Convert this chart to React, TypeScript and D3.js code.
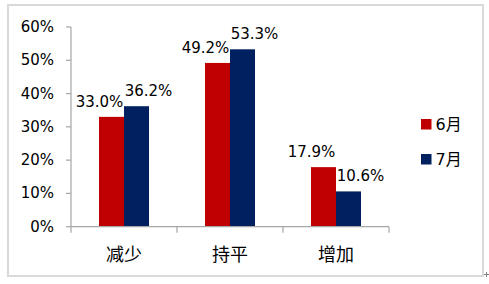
import React from "react";
import * as d3 from "d3";

const categories = ["减少", "持平", "增加"];
const seriesNames = ["6月", "7月"];
const june = [33.0, 49.2, 17.9];
const july = [36.2, 53.3, 10.6];
const yTicks = [0, 10, 20, 30, 40, 50, 60];
const colors = ["#C00000", "#002060"];

const W = 489;
const H = 284;
const NUM_FONT = "'DejaVu Sans', 'Noto Sans CJK SC', sans-serif";
const CJK_FONT = "'Noto Sans CJK SC', 'DejaVu Sans', sans-serif";

export default function App() {
  const x0 = d3.scaleBand<string>().domain(categories).range([71, 389]).padding(0);
  const x1 = d3
    .scaleBand<string>()
    .domain(seriesNames)
    .range([0, x0.bandwidth()])
    .paddingInner(0)
    .paddingOuter(1.12);
  const y = d3.scaleLinear().domain([0, 60]).range([226.7, 27]);
  const values = [june, july];
  const axisColor = "#A6A6A6";
  const fmt = (v: number) => `${v.toFixed(1)}%`;

  return (
    <svg
      width={W}
      height={H}
      style={{ position: "absolute", left: 0, top: 0, background: "#fff" }}
    >
      <rect x={8} y={5} width={475} height={271} fill="#fff" stroke="#D9D9D9" strokeWidth={2} />
      {/* resize handle artifact */}
      <g stroke="#7F7F7F" strokeWidth={1}>
        <line x1={484} y1={274.5} x2={489} y2={274.5} />
        <line x1={486.5} y1={272} x2={486.5} y2={277} />
      </g>

      {/* y axis */}
      <line x1={71} y1={y(60)} x2={71} y2={y(0)} stroke={axisColor} strokeWidth={1.2} />
      {yTicks.map((t) => (
        <g key={t}>
          <line x1={66} x2={71} y1={y(t)} y2={y(t)} stroke={axisColor} strokeWidth={1.2} />
          <text
            x={54}
            y={y(t)}
            textAnchor="end"
            dominantBaseline="central"
            fontFamily={NUM_FONT}
            fontSize={15}
            fill="#000"
          >
            {`${t}%`}
          </text>
        </g>
      ))}

      {/* bars */}
      {categories.map((c, ci) =>
        seriesNames.map((s, si) => {
          const v = values[si][ci];
          const bx = (x0(c) as number) + (x1(s) as number);
          return (
            <rect
              key={c + s}
              x={bx}
              y={y(v)}
              width={x1.bandwidth()}
              height={y(0) - y(v)}
              fill={colors[si]}
            />
          );
        })
      )}

      {/* x axis */}
      <line x1={71} y1={y(0)} x2={389} y2={y(0)} stroke={axisColor} strokeWidth={1.2} />
      {[...categories.map((c) => x0(c) as number), 389].map((tx, i) => (
        <line key={i} x1={tx} x2={tx} y1={y(0)} y2={y(0) + 6} stroke={axisColor} strokeWidth={1.2} />
      ))}
      {categories.map((c) => (
        <text
          key={c}
          x={(x0(c) as number) + x0.bandwidth() / 2}
          y={252.5}
          textAnchor="middle"
          dominantBaseline="central"
          fontFamily={CJK_FONT}
          fontSize={18}
          fill="#000"
        >
          {c}
        </text>
      ))}

      {/* data labels */}
      {categories.map((c, ci) =>
        seriesNames.map((s, si) => {
          const v = values[si][ci];
          const cx = (x0(c) as number) + (x1(s) as number) + x1.bandwidth() / 2;
          return (
            <text
              key={"l" + c + s}
              x={cx + (si === 0 ? -12 : 12)}
              y={y(v) - 10}
              textAnchor="middle"
              fontFamily={NUM_FONT}
              fontSize={15}
              fill="#000"
            >
              {fmt(v)}
            </text>
          );
        })
      )}

      {/* legend */}
      {seriesNames.map((s, si) => (
        <g key={s} transform={`translate(421, ${124 + si * 35})`}>
          <rect x={0} y={-5} width={10.5} height={10.5} fill={colors[si]} />
          <text
            x={14.5}
            y={0}
            dominantBaseline="central"
            fontFamily={NUM_FONT}
            fontSize={16}
            fill="#000"
          >
            {s}
          </text>
        </g>
      ))}
    </svg>
  );
}
